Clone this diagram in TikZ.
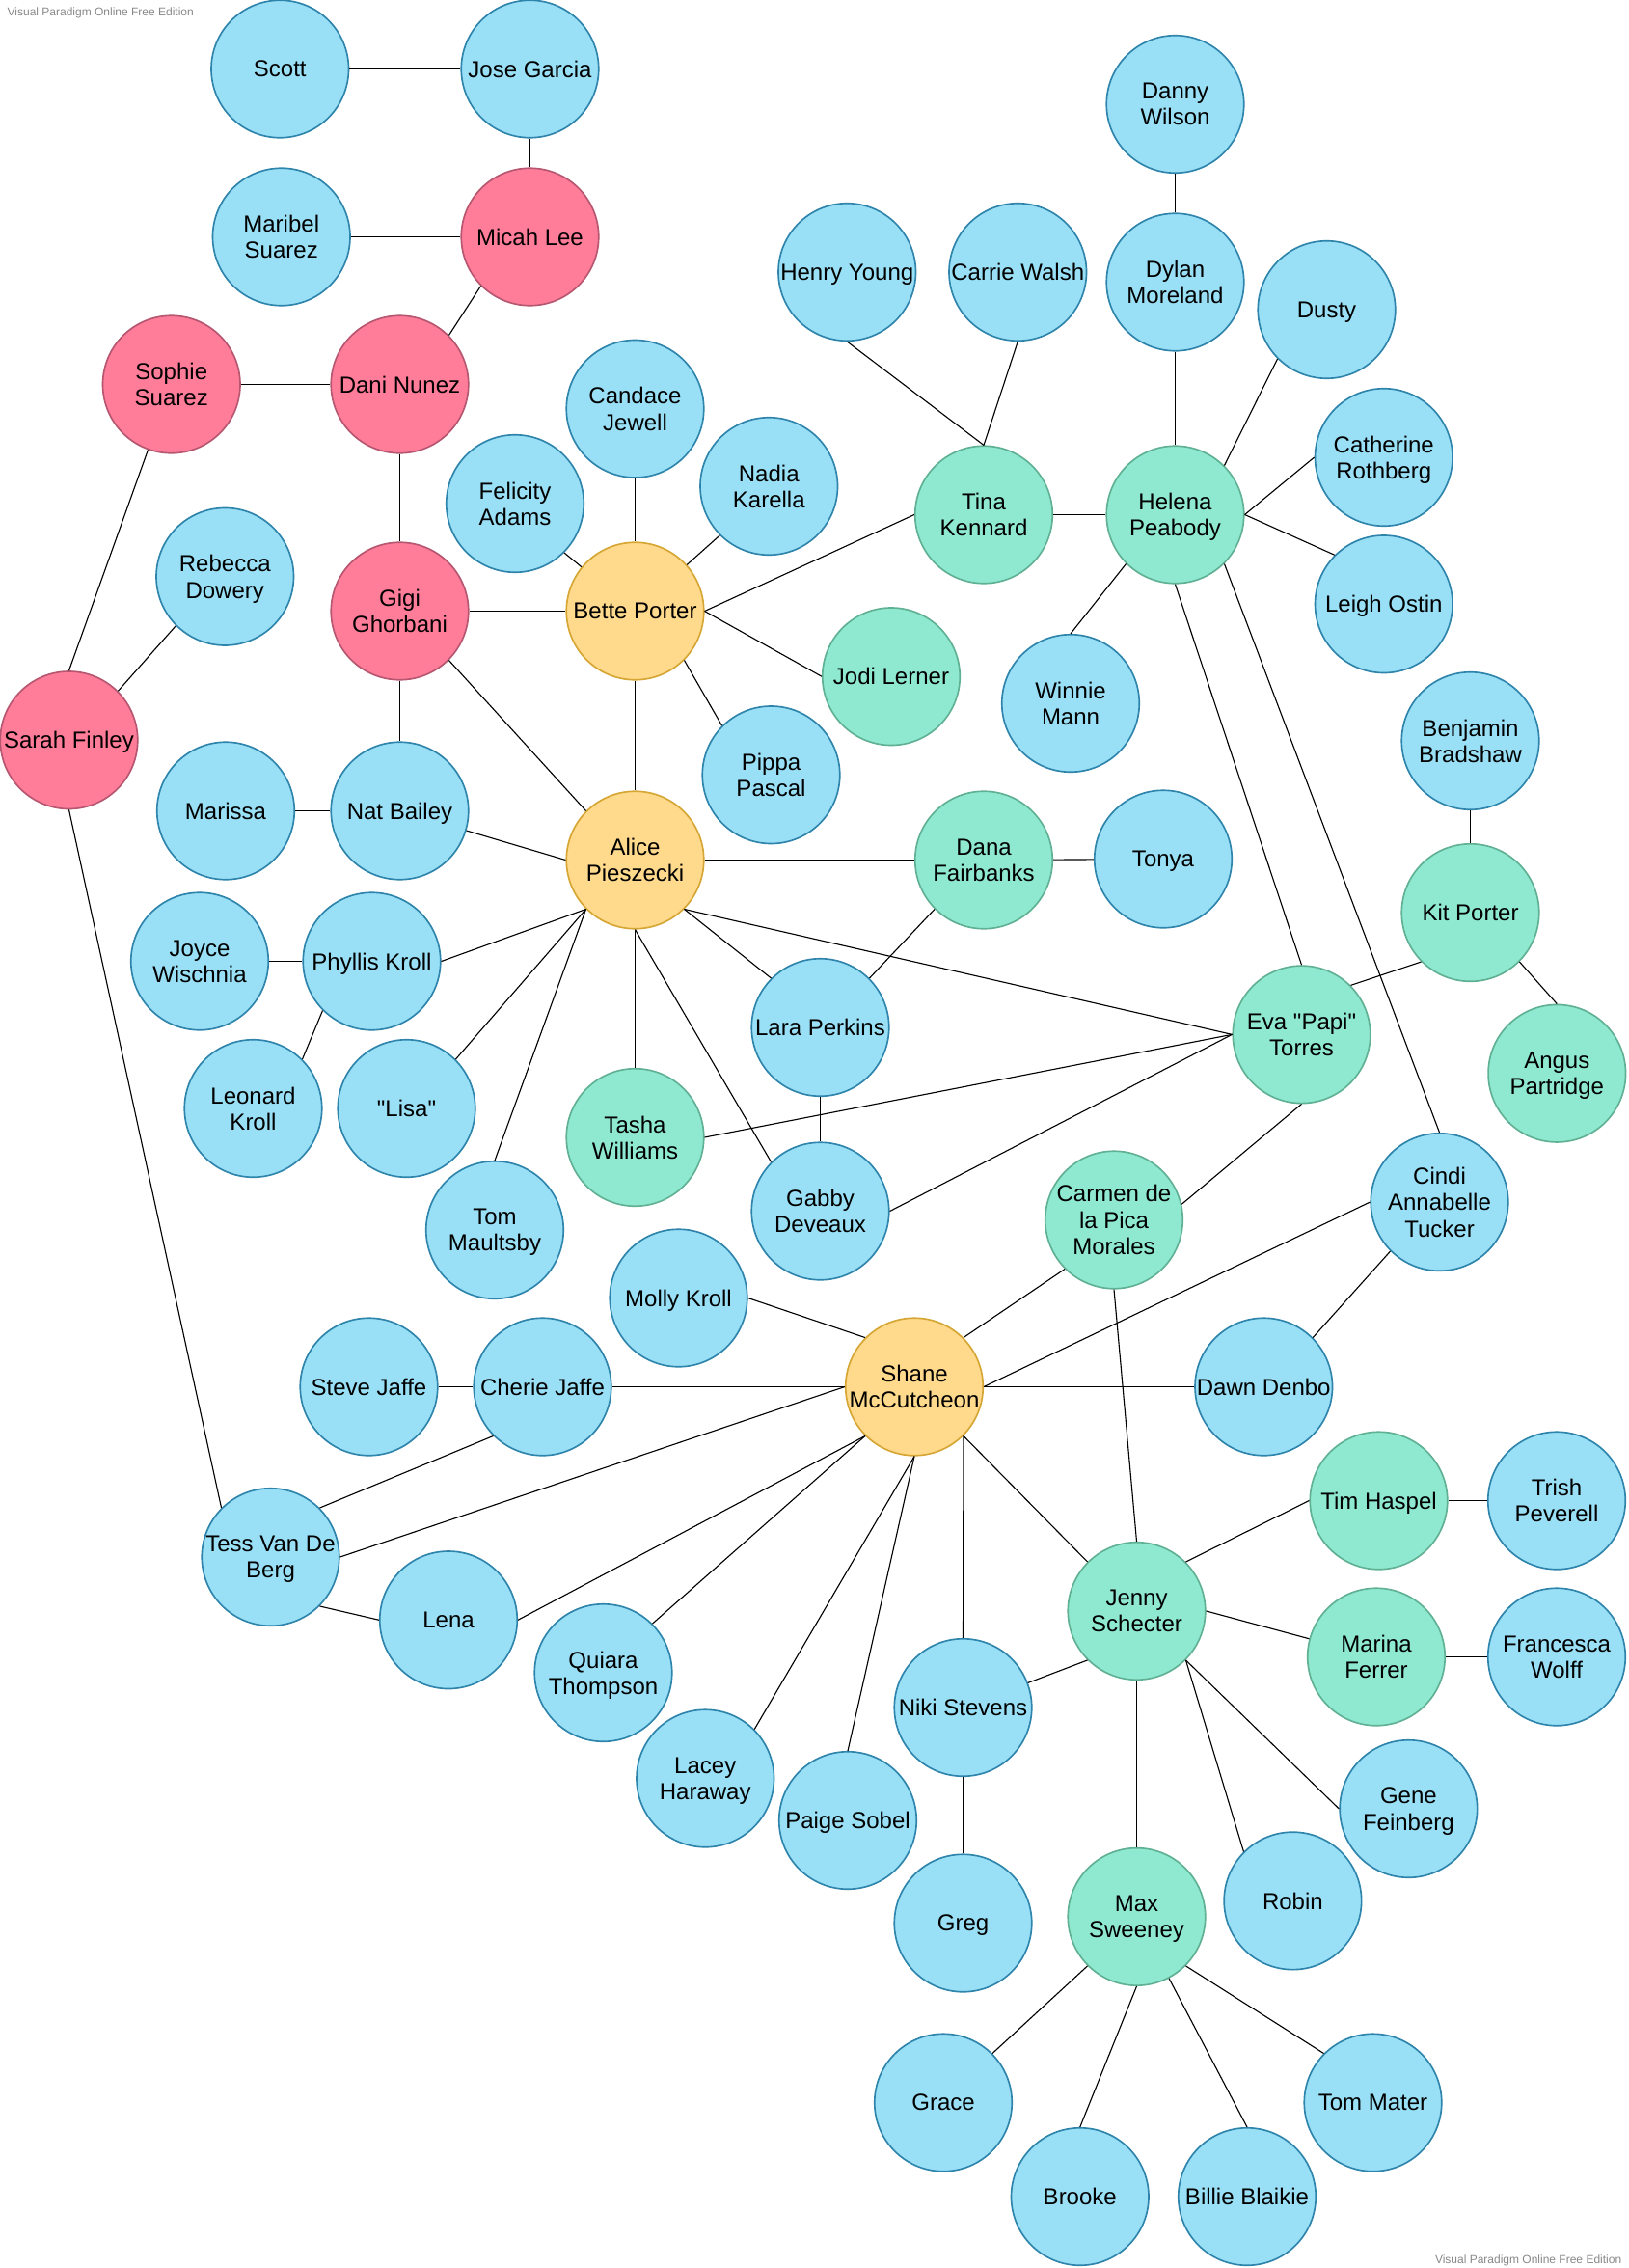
\documentclass[tikz,border=0pt]{standalone}
\usepackage{fontspec}
\setmainfont{Liberation Sans}[Ligatures=TeXOff]
\definecolor{bfill}{RGB}{153,224,247}
\definecolor{bline}{RGB}{46,132,170}
\definecolor{pfill}{RGB}{255,125,153}
\definecolor{pline}{RGB}{182,86,112}
\definecolor{yfill}{RGB}{255,217,140}
\definecolor{yline}{RGB}{214,166,52}
\definecolor{gfill}{RGB}{143,233,209}
\definecolor{gline}{RGB}{96,176,148}
\definecolor{wmark}{RGB}{136,136,136}
\tikzset{
  person/.style={circle, minimum size=95pt, inner sep=-14pt, line width=1.1pt, align=center,
    text depth=0pt, font=\fontsize{16}{18.2}\selectfont, text=black},
  bl/.style={person, draw=bline, fill=bfill},
  pk/.style={person, draw=pline, fill=pfill},
  ye/.style={person, draw=yline, fill=yfill},
  gr/.style={person, draw=gline, fill=gfill},
  link/.style={draw=black, line width=0.75pt},
  wm/.style={text=wmark, font=\fontsize{8}{9}\selectfont, inner sep=0pt}
}
\begin{document}
\begin{tikzpicture}[x=1pt,y=-1pt]
\useasboundingbox (0,0) rectangle (1125.33,1567.33);
% watermarks
\node[wm, anchor=base west] (wmtop) at (4.9,10.7) {Visual Paradigm Online Free Edition};
\node[wm, anchor=base east] (wmbot) at (1121,1564.4) {Visual Paradigm Online Free Edition};
% nodes
\node[bl] (scott) at (193.5,47.67) {Scott};
\node[bl] (jose) at (366.33,47.67) {Jose Garcia};
\node[bl] (maribel) at (194.5,163.67) {Maribel\\Suarez};
\node[pk] (micah) at (366.33,163.67) {Micah Lee};
\node[pk] (sophie) at (118.5,265.67) {Sophie\\Suarez};
\node[pk] (dani) at (276.33,265.67) {Dani Nunez};
\node[bl] (candace) at (439,282.5) {Candace\\Jewell};
\node[bl] (felicity) at (356,348) {Felicity\\Adams};
\node[bl] (nadia) at (531.5,336) {Nadia\\Karella};
\node[pk] (gigi) at (276.33,422.33) {Gigi\\Ghorbani};
\node[ye] (bette) at (439,422.33) {Bette Porter};
\node[bl] (rebecca) at (155.5,398.5) {Rebecca\\Dowery};
\node[pk] (sarah) at (47.67,511.5) {Sarah Finley};
\node[bl] (pippa) at (533,535.5) {Pippa\\Pascal};
\node[gr] (jodi) at (616,467.5) {Jodi Lerner};
\node[bl] (marissa) at (156,560.33) {Marissa};
\node[bl] (nat) at (276.33,560.33) {Nat Bailey};
\node[ye] (alice) at (439,594.33) {Alice\\Pieszecki};
\node[bl] (joyce) at (138,664.33) {Joyce\\Wischnia};
\node[bl] (phyllis) at (257,664.33) {Phyllis Kroll};
\node[bl] (leonard) at (175,766) {Leonard\\Kroll};
\node[bl] (lisa) at (281,766) {"Lisa"};
\node[bl] (tomm) at (342,850) {Tom\\Maultsby};
\node[gr] (tasha) at (439,786) {Tasha\\Williams};
\node[bl] (lara) at (567,710) {Lara Perkins};
\node[bl] (gabby) at (567,837) {Gabby\\Deveaux};
\node[gr] (dana) at (680,594.33) {Dana\\Fairbanks};
\node[bl] (tonya) at (804,593.67) {Tonya};
\node[bl] (henry) at (585.5,188) {Henry Young};
\node[bl] (carrie) at (703.5,188) {Carrie Walsh};
\node[gr] (tina) at (680,355.67) {Tina\\Kennard};
\node[bl] (danny) at (812.33,72) {Danny\\Wilson};
\node[bl] (dylan) at (812.33,195) {Dylan\\Moreland};
\node[bl] (dusty) at (917,214) {Dusty};
\node[gr] (helena) at (812.33,355.67) {Helena\\Peabody};
\node[bl] (catherine) at (956.5,316) {Catherine\\Rothberg};
\node[bl] (leigh) at (956.5,417.5) {Leigh Ostin};
\node[bl] (winnie) at (740,486) {Winnie\\Mann};
\node[bl] (benjamin) at (1016.33,512) {Benjamin\\Bradshaw};
\node[gr] (kit) at (1016.33,630.7) {Kit Porter};
\node[gr] (angus) at (1076.2,741.8) {Angus\\Partridge};
\node[gr] (eva) at (899.67,714.9) {Eva "Papi"\\Torres};
\node[bl] (cindi) at (995,830.7) {Cindi\\Annabelle\\Tucker};
\node[gr] (carmen) at (770,843) {Carmen de\\la Pica\\Morales};
\node[bl] (molly) at (469,897) {Molly Kroll};
\node[ye] (shane) at (632,958.33) {Shane\\McCutcheon};
\node[bl] (steve) at (255,958.33) {Steve Jaffe};
\node[bl] (cherie) at (375,958.33) {Cherie Jaffe};
\node[bl] (dawn) at (873.5,958.33) {Dawn Denbo};
\node[bl] (tess) at (187,1076) {Tess Van De\\Berg};
\node[bl] (lena) at (310,1119.5) {Lena};
\node[bl] (quiara) at (417,1156) {Quiara\\Thompson};
\node[bl] (lacey) at (487.5,1229) {Lacey\\Haraway};
\node[bl] (paige) at (586,1258) {Paige Sobel};
\node[bl] (niki) at (665.67,1180) {Niki Stevens};
\node[bl] (greg) at (665.67,1329) {Greg};
\node[gr] (jenny) at (785.67,1113.3) {Jenny\\Schecter};
\node[gr] (tim) at (953,1037) {Tim Haspel};
\node[bl] (trish) at (1076,1037) {Trish\\Peverell};
\node[gr] (marina) at (951.3,1145) {Marina\\Ferrer};
\node[bl] (francesca) at (1076,1145) {Francesca\\Wolff};
\node[bl] (gene) at (973.6,1250) {Gene\\Feinberg};
\node[bl] (robin) at (893.6,1313.6) {Robin};
\node[gr] (max) at (785.67,1324.6) {Max\\Sweeney};
\node[bl] (grace) at (652,1453) {Grace};
\node[bl] (brooke) at (746.5,1518) {Brooke};
\node[bl] (billie) at (862,1518) {Billie Blaikie};
\node[bl] (tomt) at (949,1453) {Tom Mater};
% connectors
\begin{scope}[link]
\draw (scott) -- (jose);
\draw (jose) -- (micah);
\draw (maribel) -- (micah);
\draw (micah.225) -- (dani.45);
\draw (sophie) -- (dani);
\draw (dani) -- (gigi);
\draw (sophie) -- (sarah.north);
\draw (rebecca.225) -- (sarah.45);
\draw (sarah.south) -- (tess.135);
\draw (gigi) -- (bette);
\draw (gigi) -- (nat);
\draw (gigi.-45) -- (alice.135);
\draw (candace.south) -- (bette.north);
\draw (felicity.-45) -- (bette);
\draw (nadia.225) -- (bette);
\draw (bette.east) -- (tina.west);
\draw (bette.east) -- (jodi.west);
\draw (bette.-45) -- (pippa.135);
\draw (bette) -- (alice);
\draw (marissa) -- (nat);
\draw (nat) -- (alice.west);
\draw (joyce) -- (phyllis);
\draw (phyllis.225) -- (leonard.45);
\draw (phyllis.east) -- (alice.225);
\draw (lisa.45) -- (alice.225);
\draw (tomm.north) -- (alice.225);
\draw (tasha) -- (alice);
\draw (alice.south) -- (gabby.135);
\draw (alice.-45) -- (lara.135);
\draw (alice.east) -- (dana.west);
\draw (alice.-45) -- (eva.west);
\draw (dana) -- (tonya);
\draw (dana.225) -- (lara.45);
\draw (lara) -- (gabby);
\draw (tasha.east) -- (eva.west);
\draw (gabby.east) -- (eva.west);
\draw (eva.45) -- (kit.225);
\draw (kit.-45) -- (angus.north);
\draw (kit) -- (benjamin);
\draw (eva.south) -- (carmen.13);
\draw (helena.south) -- (eva.north);
\draw (helena) -- (tina);
\draw (helena) -- (dylan);
\draw (dylan) -- (danny);
\draw (helena.45) -- (dusty.225);
\draw (helena.east) -- (catherine.west);
\draw (helena.east) -- (leigh.135);
\draw (helena.225) -- (winnie.north);
\draw (helena.-45) -- (cindi.north);
\draw (henry.south) -- (tina.north);
\draw (carrie.south) -- (tina.north);
\draw (cindi.west) -- (shane.east);
\draw (cindi.225) -- (dawn.45);
\draw (carmen.225) -- (shane.45);
\draw (carmen.south) -- (jenny.north);
\draw (molly.east) -- (shane.135);
\draw (cherie) -- (shane);
\draw (steve) -- (cherie);
\draw (cherie.225) -- (tess.45);
\draw (tess.east) -- (shane.west);
\draw (tess.-45) -- (lena.west);
\draw (lena.east) -- (shane.225);
\draw (quiara.45) -- (shane.225);
\draw (lacey.45) -- (shane.south);
\draw (paige.north) -- (shane.south);
\draw (niki.north) -- (shane.-45);
\draw (shane.-45) -- (jenny.135);
\draw (shane) -- (dawn);
\draw (niki) -- (jenny.225);
\draw (niki) -- (greg);
\draw (jenny.45) -- (tim.west);
\draw (tim) -- (trish);
\draw (jenny.east) -- (marina);
\draw (marina) -- (francesca);
\draw (jenny.-45) -- (gene.west);
\draw (jenny.-45) -- (robin.135);
\draw (jenny) -- (max);
\draw (max.225) -- (grace.45);
\draw (max.south) -- (brooke.north);
\draw (max) -- (billie.north);
\draw (max.-45) -- (tomt.135);
\end{scope}
\end{tikzpicture}
\end{document}
